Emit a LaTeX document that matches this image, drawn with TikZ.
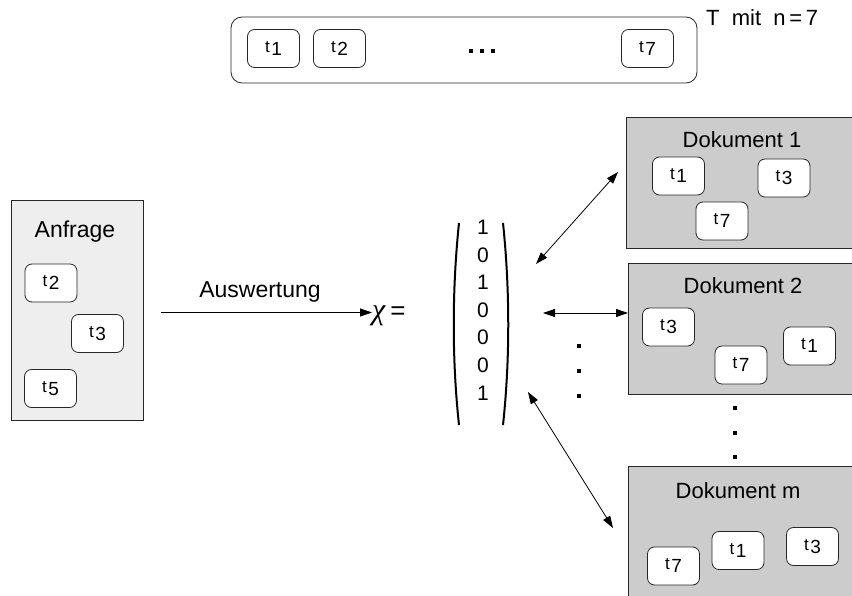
\documentclass[tikz,border=0pt]{standalone}
\usepackage{fontspec}
\setmainfont{Liberation Sans}
\newfontfamily\chifont{Liberation Serif}
\usetikzlibrary{arrows.meta}
\newcommand{\termlab}[1]{\raisebox{3pt}{\fontsize{17}{17}\selectfont t}\hspace{1.5pt}{\fontsize{19}{19}\selectfont #1}}
\definecolor{anfragegray}{HTML}{EEEEEE}
\definecolor{docgray}{HTML}{CCCCCC}
\begin{document}
\begin{tikzpicture}[x=1pt,y=-1pt,
  term/.style={draw=black!85, fill=white, rounded corners=7pt, minimum width=52pt, minimum height=38pt, inner sep=0pt, line width=0.8pt},
  title/.style={font=\fontsize{22}{22}\selectfont, inner sep=0pt},
  docbox/.style={draw=black!85, fill=docgray, line width=0.9pt},
  vec/.style={font=\fontsize{21}{21}\selectfont, inner sep=0pt},
  link/.style={line width=0.8pt, {Triangle[length=12pt,width=8pt]}-{Triangle[length=12pt,width=8pt]}},
  dotmark/.style={fill=black, minimum size=4pt, inner sep=0pt},
]
\clip (0,0) rectangle (852,596);
\fill[white] (0,0) rectangle (852,596);

% top set T
\node[draw=black!85, line width=0.8pt, rounded corners=11pt, minimum width=466pt, minimum height=66pt, inner sep=0pt] (T) at (464,50) {};
\node[term] (Tt1) at (273.5,48.5) {\termlab{1}};
\node[term] (Tt2) at (339.5,48.5) {\termlab{2}};
\node[dotmark] (Td1) at (471,51) {};
\node[dotmark] (Td2) at (482,51) {};
\node[dotmark] (Td3) at (493,51) {};
\node[term] (Tt7) at (647.5,48.5) {\termlab{7}};
\node[title, anchor=west] (Tlab) at (706,18) {T\ \ mit\ \ n\,=\,7};

% Anfrage
\node[draw=black!85, fill=anfragegray, line width=0.9pt, minimum width=132pt, minimum height=220pt, inner sep=0pt] (A) at (77,310) {};
\node[title, font=\fontsize{23}{23}\selectfont] (Atitle) at (75,232) {Anfrage};
\node[term] (At2) at (51,283) {\termlab{2}};
\node[term] (At3) at (97.5,333.5) {\termlab{3}};
\node[term] (At5) at (50.5,388.5) {\termlab{5}};

% Auswertung arrow
\coordinate (ArrS) at (161,312.5);
\node[inner sep=0pt, anchor=west] (chi) at (372,316) {{\chifont\itshape\fontsize{30}{30}\selectfont χ}\hspace{5pt}{\fontsize{26}{26}\selectfont =}};
\draw[line width=0.8pt, -{Triangle[length=12pt,width=8pt]}] (ArrS) -- (chi.west |- ArrS);
\node[title, font=\fontsize{23}{23}\selectfont] (auswlab) at (260,292) {Auswertung};

% vector
\draw[line width=2pt] (459,223) .. controls (452,290) and (452,360) .. (459,425);
\draw[line width=2pt] (503,223) .. controls (510,290) and (510,360) .. (503,425);
\node[vec] (v1) at (483,227) {1};
\node[vec] (v2) at (483,255) {0};
\node[vec] (v3) at (483,282) {1};
\node[vec] (v4) at (483,310) {0};
\node[vec] (v5) at (483,337) {0};
\node[vec] (v6) at (483,365) {0};
\node[vec] (v7) at (483,393) {1};
\node[dotmark] (vd1) at (579,346) {};
\node[dotmark] (vd2) at (579,371) {};
\node[dotmark] (vd3) at (579,396) {};

% Documents
\node[docbox, anchor=north west, minimum width=240pt, minimum height=131pt] (D1) at (626,117) {};
\node[title] (D1title) at (742,140) {Dokument 1};
\node[term] (D1t1) at (678.5,176) {\termlab{1}};
\node[term] (D1t3) at (784,178) {\termlab{3}};
\node[term] (D1t7) at (722,221) {\termlab{7}};

\node[docbox, anchor=north west, minimum width=240pt, minimum height=131pt] (D2) at (628,263) {};
\node[title] (D2title) at (743,286) {Dokument 2};
\node[term] (D2t3) at (668.5,327) {\termlab{3}};
\node[term] (D2t7) at (741,365) {\termlab{7}};
\node[term] (D2t1) at (809.5,346) {\termlab{1}};

\node[dotmark] (dd1) at (735,408) {};
\node[dotmark] (dd2) at (735,433) {};
\node[dotmark] (dd3) at (735,457) {};

\node[docbox, anchor=north west, minimum width=240pt, minimum height=140pt] (Dm) at (628,466) {};
\node[title] (Dmtitle) at (738,491) {Dokument m};
\node[term] (Dmt7) at (673.5,566) {\termlab{7}};
\node[term] (Dmt1) at (738,550.5) {\termlab{1}};
\node[term] (Dmt3) at (812.5,546.5) {\termlab{3}};

% links
\coordinate (L1a) at (536,264);
\coordinate (L1b) at (618,172);
\coordinate (L2a) at (543,313);
\coordinate (L3a) at (528,392);
\coordinate (L3b) at (613,528);
\draw[link] (L1a) -- (L1b);
\draw[link] (L2a) -- (D2.west |- L2a);
\draw[link] (L3a) -- (L3b);
\end{tikzpicture}
\end{document}
